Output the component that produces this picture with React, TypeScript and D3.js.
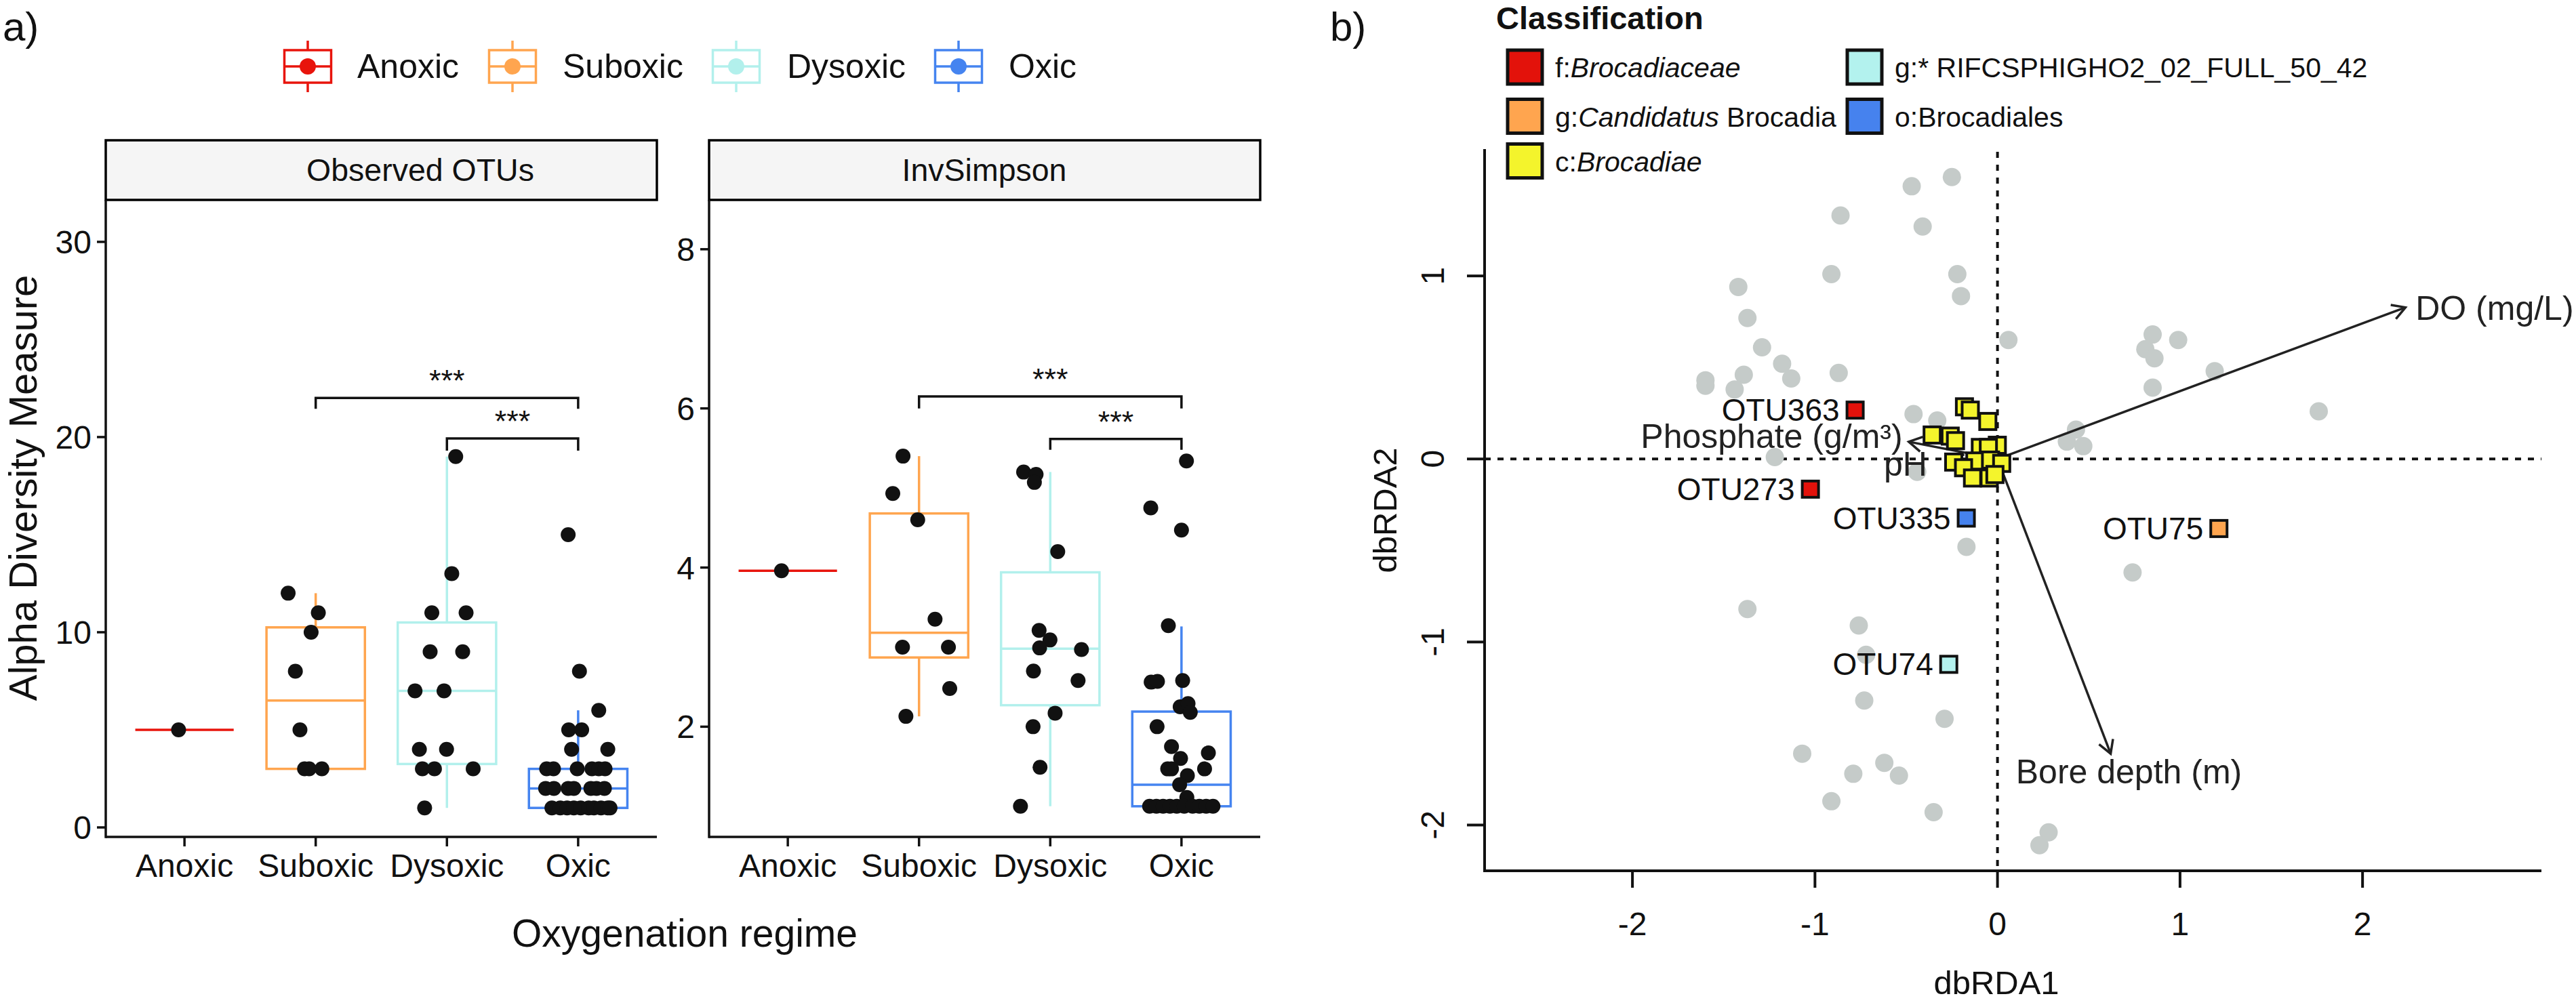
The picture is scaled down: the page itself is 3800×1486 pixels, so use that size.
import React from "react";
import * as d3 from "d3";

const FONT = "'Liberation Sans', Arial, Helvetica, sans-serif";

// ---------- Panel a data ----------
const groups = ["Anoxic", "Suboxic", "Dysoxic", "Oxic"];
const groupColors = ["#E8140C", "#FFA54F", "#B2F0EC", "#4584F0"];

const obsValues = [
  [5],
  [12, 11, 10, 8, 5, 3, 3, 3],
  [19, 13, 11, 11, 9, 9, 7, 7, 4, 4, 3, 3, 3, 1],
  [15, 8, 6, 5, 5, 4, 4, 3, 3, 3, 3, 3, 3, 2, 2, 2, 2, 2, 2, 2, 1, 1, 1, 1, 1, 1, 1, 1, 1, 1],
];
const obsJitter = [
  [-0.045],
  [-0.21, 0.02, -0.035, -0.155, -0.12, -0.085, -0.05, 0.047],
  [0.067, 0.037, -0.115, 0.146, -0.128, 0.12, -0.243, -0.022, -0.21, -0.003, -0.187, -0.095, 0.2, -0.17],
  [-0.076, 0.01, 0.157, -0.072, 0.027, -0.05, 0.226, -0.24, -0.188, -0.007, 0.105, 0.157, 0.205,
    -0.248, -0.185, -0.076, -0.033, 0.097, 0.14, 0.2,
    -0.2, -0.136, -0.084, -0.033, 0.019, 0.08, 0.12, 0.174, 0.226, 0.243],
];
const obsLo = [5, 3, 1, 1];
const obsQ1 = [5, 3, 3.25, 1];
const obsMed = [5, 6.5, 7, 2];
const obsQ3 = [5, 10.25, 10.5, 3];
const obsHi = [5, 12, 19, 6];

const invValues = [
  [3.96],
  [5.4, 4.93, 4.6, 3.35, 3.0, 3.0, 2.48, 2.13],
  [5.2, 5.17, 5.07, 4.2, 3.21, 3.09, 2.99, 2.97, 2.7, 2.58, 2.17, 2.0, 1.49, 1.0],
  [5.34, 4.75, 4.47, 3.27, 2.56, 2.57, 2.58, 2.25, 2.29, 2.18, 2.0, 1.75, 1.6, 1.67, 1.47, 1.47, 1.47,
    1.385, 1.27, 1.11, 1, 1, 1, 1, 1, 1, 1, 1, 1, 1],
];
const invJitter = [
  [-0.048],
  [-0.122, -0.2, -0.01, 0.122, -0.126, 0.224, 0.234, -0.1],
  [-0.203, -0.108, -0.121, 0.057, -0.085, -0.002, -0.081, 0.238, -0.128, 0.212, 0.037, -0.131, -0.078, -0.227],
  [0.038, -0.234, 0, -0.1, -0.231, -0.183, 0.009, -0.01, 0.05, 0.067, -0.186, -0.076, -0.007, 0.205,
    -0.105, -0.076, 0.176, 0.045, -0.014, 0.041,
    -0.243, -0.191, -0.14, -0.088, -0.036, 0.021, 0.085, 0.136, 0.188, 0.24],
];
const invLo = [3.96, 2.13, 1.0, 1.0];
const invQ1 = [3.96, 2.87, 2.27, 1.0];
const invMed = [3.96, 3.18, 2.98, 1.27];
const invQ3 = [3.96, 4.68, 3.94, 2.19];
const invHi = [3.96, 5.4, 5.2, 3.26];

const obsTicks = [0, 10, 20, 30];
const invTicks = [2, 4, 6, 8];

const bracketFrom = [1, 2]; // group index
const bracketTo = [3, 3];
const bracketLabels = ["***", "***"];
const obsBracketY = [22.0, 19.93];
const obsBracketTip = [21.45, 19.3];
const invBracketY = [6.15, 5.615];
const invBracketTip = [6.0, 5.48];

// ---------- Panel b data ----------
const siteX = [-0.25, -0.47, -0.86, -0.41, -0.91, -0.22, -1.42, -0.2, -1.37, 0.06, -1.29, -1.18, -1.6, -1.6,
  -1.39, -1.44, -1.13, -0.87, -0.46, -0.33, -1.22, 0.43, 0.38, 0.47, 0.85, 0.99, 0.81, 0.86, 1.19, 0.85,
  1.76, -0.44, -0.17, 0.74, -1.37, -0.76, -0.72, -0.73, -0.29, -1.07, -0.62, -0.79, -0.54, -0.91, -0.35,
  0.28, 0.23];
const siteY = [1.54, 1.49, 1.33, 1.27, 1.01, 1.01, 0.94, 0.89, 0.77, 0.65, 0.61, 0.52, 0.43, 0.4,
  0.46, 0.38, 0.44, 0.47, 0.245, 0.21, 0.01, 0.16, 0.095, 0.07, 0.68, 0.65, 0.6, 0.55, 0.48, 0.39,
  0.26, -0.07, -0.48, -0.62, -0.82, -0.91, -1.07, -1.32, -1.42, -1.61, -1.66, -1.72, -1.73, -1.87, -1.93,
  -2.04, -2.11];

const yellowX = [-0.181, -0.149, -0.053, -0.358, -0.259, -0.23, -0.001, -0.094, -0.05, -0.24, -0.124,
  -0.038, 0.023, -0.186, -0.137, -0.045, -0.014];
const yellowY = [0.285, 0.267, 0.205, 0.131, 0.125, 0.1, 0.075, 0.063, 0.063, -0.017, -0.011, -0.006,
  -0.024, -0.048, -0.104, -0.104, -0.085];

const classNames = ["f:Brocadiaceae", "g:Candidatus Brocadia", "c:Brocadiae",
  "g:* RIFCSPHIGHO2_02_FULL_50_42", "o:Brocadiales"];
const classColors = ["#E3120B", "#FFA54F", "#F4F42C", "#B3F2EE", "#4682EE"];

const otuNames = ["OTU363", "OTU273", "OTU335", "OTU75", "OTU74"];
const otuX = [-0.78, -1.025, -0.171, 1.213, -0.267];
const otuY = [0.267, -0.165, -0.323, -0.38, -1.122];
const otuClass = [0, 0, 4, 1, 3];

const envNames = ["DO (mg/L)", "Phosphate (g/m³)", "pH", "Bore depth (m)"];
const envX = [2.235, -0.486, -0.25, 0.62];
const envY = [0.828, 0.094, -0.02, -1.61];
const envLabelX = [2.29, -0.52, -0.385, 0.72];
const envLabelY = [0.826, 0.126, -0.026, -1.704];
const envAnchor = ["start", "end", "end", "middle"];

const bTicksX = [-2, -1, 0, 1, 2];
const bTicksY = [-2, -1, 0, 1];

function arrowHead(x1: number, y1: number, x2: number, y2: number, len = 22, ang = Math.PI / 6) {
  const t = Math.atan2(y2 - y1, x2 - x1);
  const ax = x2 - len * Math.cos(t - ang), ay = y2 - len * Math.sin(t - ang);
  const bx = x2 - len * Math.cos(t + ang), by = y2 - len * Math.sin(t + ang);
  return `M${ax},${ay}L${x2},${y2}L${bx},${by}`;
}

function Facet(props: any) {
  const { title, titleX, x0, x1, domain, values, jitter, lo, q1, med, q3, hi, ticks, brY, brTip } = props;
  const top = 295, bottom = 1235, stripTop = 207;
  const xs = d3.scaleLinear().domain([0.4, 4.6]).range([x0, x1]);
  const ys = d3.scaleLinear().domain(domain).range([bottom, top]);
  const lw = 3.5;
  return (
    <g>
      <rect x={x0} y={stripTop} width={x1 - x0} height={top - stripTop} fill="#F5F5F5" stroke="#000" strokeWidth={3.5} />
      <text x={titleX} y={(stripTop + top) / 2 + 16} textAnchor="middle" fontSize={46.5} fontFamily={FONT} fill="#111">{title}</text>
      {groups.map((g, i) => {
        const cx = xs(i + 1);
        const xl = xs(i + 1 - 0.375), xr = xs(i + 1 + 0.375);
        const c = groupColors[i];
        return (
          <g key={g}>
            <line x1={cx} x2={cx} y1={ys(q3[i])} y2={ys(hi[i])} stroke={c} strokeWidth={lw} />
            <line x1={cx} x2={cx} y1={ys(q1[i])} y2={ys(lo[i])} stroke={c} strokeWidth={lw} />
            {q3[i] > q1[i] && (
              <rect x={xl} y={ys(q3[i])} width={xr - xl} height={ys(q1[i]) - ys(q3[i])} fill="white" stroke={c} strokeWidth={lw} />
            )}
            <line x1={xl} x2={xr} y1={ys(med[i])} y2={ys(med[i])} stroke={c} strokeWidth={lw} />
          </g>
        );
      })}
      {values.map((vals: number[], i: number) =>
        vals.map((v: number, j: number) => (
          <circle key={i + "-" + j} cx={xs(i + 1 + jitter[i][j])} cy={ys(v)} r={11} fill="#111" />
        ))
      )}
      {bracketFrom.map((f, k) => {
        const xa = xs(f + 1), xb = xs(bracketTo[k] + 1);
        const yb = ys(brY[k]), yt = ys(brTip[k]);
        return (
          <g key={"br" + k}>
            <path d={`M${xa},${yt}L${xa},${yb}L${xb},${yb}L${xb},${yt}`} fill="none" stroke="#111" strokeWidth={3.5} />
            <text x={(xa + xb) / 2} y={yb - 10} textAnchor="middle" fontSize={45} fontFamily={FONT} fill="#111">{bracketLabels[k]}</text>
          </g>
        );
      })}
      <line x1={x0} x2={x0} y1={top} y2={bottom + 1.75} stroke="#111" strokeWidth={3.5} />
      <line x1={x0} x2={x1} y1={bottom} y2={bottom} stroke="#111" strokeWidth={3.5} />
      {ticks.map((t: number) => (
        <g key={"yt" + t}>
          <line x1={x0 - 13} x2={x0} y1={ys(t)} y2={ys(t)} stroke="#111" strokeWidth={3.5} />
          <text x={x0 - 21} y={ys(t) + 17} textAnchor="end" fontSize={48} fontFamily={FONT} fill="#111">{t}</text>
        </g>
      ))}
      {groups.map((g, i) => (
        <g key={"xt" + g}>
          <line x1={xs(i + 1)} x2={xs(i + 1)} y1={bottom} y2={bottom + 14} stroke="#111" strokeWidth={3.5} />
          <text x={xs(i + 1)} y={1294} textAnchor="middle" fontSize={48} fontFamily={FONT} fill="#111">{g}</text>
        </g>
      ))}
    </g>
  );
}

export default function App() {
  const W = 3800, H = 1486;
  const bx = d3.scaleLinear().domain([-2.81, 2.98]).range([2190, 3749]);
  const by = d3.scaleLinear().domain([-2.25, 1.693]).range([1285, 220]);
  const legendXs = [454, 756, 1086, 1414];
  const legendTextXs = [527, 830, 1161, 1488];
  const legRows = [99, 171.5, 237.5];
  const classPos = [[0, 0], [0, 1], [0, 2], [1, 0], [1, 1]];
  const colKeyX = [2224, 2725];
  const colTextX = [2294, 2795];
  const sq = 24;

  const classLabel = (i: number) => {
    if (i === 0) return (<><tspan>f:</tspan><tspan fontStyle="italic">Brocadiaceae</tspan></>);
    if (i === 1) return (<><tspan>g:</tspan><tspan fontStyle="italic">Candidatus</tspan><tspan> Brocadia</tspan></>);
    if (i === 2) return (<><tspan>c:</tspan><tspan fontStyle="italic">Brocadiae</tspan></>);
    return classNames[i];
  };

  return (
    <svg width={W} height={H} style={{ position: "absolute", left: 0, top: 0, background: "white" }} fontFamily={FONT}>
      <rect x={0} y={0} width={W} height={H} fill="white" />
      {/* ===== Panel a ===== */}
      <text x={4} y={60} fontSize={60} fill="#111">a)</text>
      {groups.map((g, i) => {
        const cx = legendXs[i], c = groupColors[i];
        return (
          <g key={"leg" + g}>
            <line x1={cx} x2={cx} y1={60} y2={74} stroke={c} strokeWidth={3.5} />
            <line x1={cx} x2={cx} y1={122} y2={136} stroke={c} strokeWidth={3.5} />
            <rect x={cx - 34.5} y={74} width={69} height={48} fill="white" stroke={c} strokeWidth={3.5} />
            <line x1={cx - 34.5} x2={cx + 34.5} y1={98} y2={98} stroke={c} strokeWidth={3.5} />
            <circle cx={cx} cy={98} r={12} fill={c} />
            <text x={legendTextXs[i]} y={115} fontSize={50} fill="#111">{g}</text>
          </g>
        );
      })}
      <Facet title="Observed OTUs" titleX={620} x0={156} x1={969} domain={[-0.486, 32.15]} values={obsValues} jitter={obsJitter}
        lo={obsLo} q1={obsQ1} med={obsMed} q3={obsQ3} hi={obsHi} ticks={obsTicks} brY={obsBracketY} brTip={obsBracketTip} />
      <Facet title="InvSimpson" titleX={1452} x0={1046} x1={1859} domain={[0.615, 8.62]} values={invValues} jitter={invJitter}
        lo={invLo} q1={invQ1} med={invMed} q3={invQ3} hi={invHi} ticks={invTicks} brY={invBracketY} brTip={invBracketTip} />
      <text x={1010} y={1397} textAnchor="middle" fontSize={57} fill="#111">Oxygenation regime</text>
      <text transform="translate(54,720) rotate(-90)" textAnchor="middle" fontSize={58} fill="#111">Alpha Diversity Measure</text>

      {/* ===== Panel b ===== */}
      <text x={1962} y={60} fontSize={60} fill="#111">b)</text>
      <text x={2207} y={43} fontSize={47} fontWeight="bold" fill="#111">Classification</text>
      {classNames.map((n, i) => {
        const [col, row] = classPos[i];
        const cy = legRows[row];
        return (
          <g key={"cl" + i}>
            <rect x={colKeyX[col]} y={cy - 25} width={51} height={50} fill={classColors[i]} stroke="#111" strokeWidth={5} />
            <text x={colTextX[col]} y={cy + 15} fontSize={41} fill="#111">{classLabel(i)}</text>
          </g>
        );
      })}

      <line x1={2190} x2={3749} y1={by(0)} y2={by(0)} stroke="#111" strokeWidth={4} strokeDasharray="9,10" />
      <line x1={bx(0)} x2={bx(0)} y1={224} y2={1285} stroke="#111" strokeWidth={4} strokeDasharray="9,10" />

      {siteX.map((x, i) => (
        <circle key={"s" + i} cx={bx(x)} cy={by(siteY[i])} r={13.5} fill="#C5CBC9" />
      ))}

      {envX.map((x, i) => {
        const x1 = bx(0), y1 = by(0), x2 = bx(x), y2 = by(envY[i]);
        return (
          <g key={"env" + i}>
            <line x1={x1} y1={y1} x2={x2} y2={y2} stroke="#222" strokeWidth={3.5} />
            <path d={arrowHead(x1, y1, x2, y2)} fill="none" stroke="#222" strokeWidth={3.5} />
          </g>
        );
      })}

      {yellowX.map((x, i) => (
        <rect key={"y" + i} x={bx(x) - sq / 2} y={by(yellowY[i]) - sq / 2} width={sq} height={sq}
          fill={classColors[2]} stroke="#111" strokeWidth={4} />
      ))}

      {envNames.map((n, i) => (
        <text key={"el" + i} x={bx(envLabelX[i])} y={by(envLabelY[i]) + 18} textAnchor={envAnchor[i]}
          fontSize={50} fill="#222">{n}</text>
      ))}

      {otuNames.map((n, i) => (
        <g key={"otu" + i}>
          <rect x={bx(otuX[i]) - sq / 2} y={by(otuY[i]) - sq / 2} width={sq} height={sq}
            fill={classColors[otuClass[i]]} stroke="#111" strokeWidth={4} />
          <text x={bx(otuX[i]) - 23} y={by(otuY[i]) + 16} textAnchor="end" fontSize={46} fill="#111">{n}</text>
        </g>
      ))}

      <line x1={2190} x2={2190} y1={220} y2={1287} stroke="#111" strokeWidth={4} />
      <line x1={2188} x2={3749} y1={1285} y2={1285} stroke="#111" strokeWidth={4} />
      {bTicksX.map((t) => (
        <g key={"bx" + t}>
          <line x1={bx(t)} x2={bx(t)} y1={1285} y2={1310} stroke="#111" strokeWidth={4} />
          <text x={bx(t)} y={1380} textAnchor="middle" fontSize={48} fill="#111">{t}</text>
        </g>
      ))}
      {bTicksY.map((t) => (
        <g key={"by" + t}>
          <line x1={2164} x2={2190} y1={by(t)} y2={by(t)} stroke="#111" strokeWidth={4} />
          <text transform={`translate(2130,${by(t)}) rotate(-90)`} textAnchor="middle" fontSize={48} fill="#111">{t}</text>
        </g>
      ))}
      <text x={2945} y={1467} textAnchor="middle" fontSize={49} fill="#111">dbRDA1</text>
      <text transform="translate(2060,753) rotate(-90)" textAnchor="middle" fontSize={49} fill="#111">dbRDA2</text>
    </svg>
  );
}
